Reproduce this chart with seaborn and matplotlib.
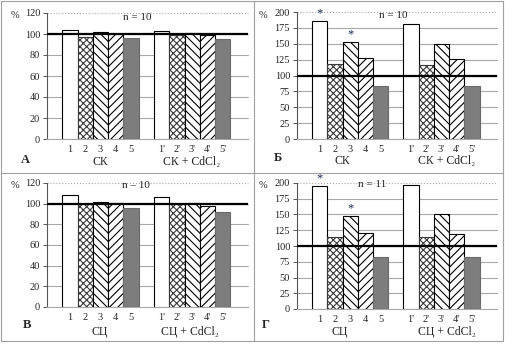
import matplotlib
matplotlib.use("Agg")
import matplotlib.pyplot as plt
import numpy as np
import pandas as pd
import seaborn as sns
from matplotlib.lines import Line2D

sns.set_theme(style="white")
plt.rcParams['font.family'] = ['Liberation Serif', 'DejaVu Serif']
plt.rcParams['hatch.linewidth'] = 0.8

# ---- data -------------------------------------------------------------
labels_base = ["1", "2", "3", "4", "5"]
labels_cd = ["1'", "2'", "3'", "4'", "5'"]

# panel А (СК), %
a_base = [104, 97.5, 102, 100, 96.5]
a_cd = [103, 99, 101, 99.5, 95.5]
# panel Б (СК), %
b_base = [186, 118, 153, 128, 83]
b_cd = [181, 117, 150, 126, 83]
# panel В (СЦ), %
v_base = [108.5, 100, 101.5, 100.5, 96]
v_cd = [106.5, 99.5, 101, 98, 92]
# panel Г (СЦ), %
g_base = [195, 114, 148, 120, 83]
g_cd = [197, 114, 150, 119, 83]

starred = ["1", "3"]  # significant differences

W, H = 527, 344
fig = plt.figure(figsize=(W / 100, H / 100), dpi=100)
fig.patch.set_facecolor("white")


def fx(x):
    return x / W


def fy(y):
    return 1 - y / H


SPACER = "·"
order = labels_base + [SPACER] + labels_cd

# fill / hatch for bars 1..5 (same for primed bars)
styles = [
    dict(fc="white", ec="black", hatch=None),
    dict(fc="white", ec="#3a3a3a", hatch="xxxxx"),
    dict(fc="white", ec="black", hatch="\\\\\\\\"),
    dict(fc="white", ec="black", hatch="////"),
    dict(fc="#7d7d7d", ec="#6a6a6a", hatch=None),
]


def panel(rect, base, cd, ymax, ystep, letter, group, n_text, n_xy, letter_xy,
          pct_xy, g1_xy, g2_xy):
    ax = fig.add_axes(rect)
    df = pd.DataFrame({"label": labels_base + labels_cd, "value": base + cd})
    sns.barplot(data=df, x="label", y="value", order=order, width=1.0,
                color="white", ax=ax, errorbar=None, saturation=1)
    for p in ax.patches:
        h = p.get_height()
        if h is None or np.isnan(h):
            continue
        slot = int(round(p.get_x() + p.get_width() / 2))
        st = styles[slot] if slot < 5 else styles[slot - 6]
        p.set_facecolor(st["fc"])
        p.set_edgecolor(st["ec"])
        p.set_linewidth(0.8)
        if st["hatch"]:
            p.set_hatch(st["hatch"])
        p.set_zorder(3)
    ax.set_xlim(-1.5, 11.65)
    ax.set_ylim(0, ymax)
    ticks = np.arange(0, ymax + 0.1, ystep)
    ax.set_yticks(ticks)
    ax.set_yticklabels([f"{int(t)}" for t in ticks], fontsize=7.5)
    for t in ticks[1:]:
        ls = ":" if t == ymax else "-"
        ax.axhline(t, color="#a8a8a8", lw=0.8, ls=ls, zorder=1, clip_on=False)
    ax.axhline(100, color="black", lw=1.6, zorder=5)
    pos = [i for i, lab in enumerate(order) if lab != SPACER]
    ax.set_xticks(pos)
    ax.set_xticklabels([order[i] for i in pos], fontsize=7.5)
    ax.tick_params(axis="x", length=0, pad=4)
    ax.tick_params(axis="y", length=3, width=0.7, color="#555555", pad=2,
                   left=True, direction="out")
    ax.set_xlabel("")
    ax.set_ylabel("")
    for s in ["top", "right"]:
        ax.spines[s].set_visible(False)
    ax.spines["left"].set_color("#555555")
    ax.spines["left"].set_linewidth(0.8)
    ax.spines["bottom"].set_color("#a8a8a8")
    ax.spines["bottom"].set_linewidth(0.8)
    ax.set_facecolor("white")
    # asterisks over bars 1 and 3
    vals = dict(zip(labels_base + labels_cd, base + cd))
    if ymax > 150:
        for lab in starred:
            i = order.index(lab)
            ax.annotate("*", (i, vals[lab]), xytext=(0, 1),
                        textcoords="offset points", ha="center", va="bottom",
                        fontsize=9, color="#1c2b4a", zorder=6)
    fig.text(fx(n_xy[0]), fy(n_xy[1]), n_text, ha="center", va="center",
             fontsize=8)
    fig.text(fx(letter_xy[0]), fy(letter_xy[1]), letter, ha="center",
             va="center", fontsize=9, fontweight="bold")
    fig.text(fx(pct_xy[0]), fy(pct_xy[1]), "%", ha="center", va="center",
             fontsize=7.5)
    fig.text(fx(g1_xy[0]), fy(g1_xy[1]), group, ha="center", va="center",
             fontsize=8.5)
    fig.text(fx(g2_xy[0]), fy(g2_xy[1]), group + " + CdCl₂", ha="center",
             va="center", fontsize=8.5)
    return ax


# left column axes span x = 47..248 px, right column x = 297..497 px
panel([fx(47), fy(139), fx(248) - fx(47), fy(13) - fy(139)],
      a_base, a_cd, 120, 20, "А", "СК", "n = 10", (137, 17), (25, 160),
      (15, 16), (100, 162), (192, 162))
panel([fx(297), fy(139), fx(497) - fx(297), fy(12) - fy(139)],
      b_base, b_cd, 200, 25, "Б", "СК", "n = 10", (393, 16), (278, 158),
      (263, 16), (342, 161), (447, 161))
panel([fx(47), fy(307), fx(248) - fx(47), fy(183) - fy(307)],
      v_base, v_cd, 120, 20, "В", "СЦ", "n – 10", (136, 186), (27, 325),
      (15, 186), (100, 332), (190, 332))
panel([fx(297), fy(309), fx(497) - fx(297), fy(183) - fy(309)],
      g_base, g_cd, 200, 25, "Г", "СЦ", "n = 11", (372, 185), (266, 325),
      (263, 186), (340, 332), (447, 332))

# table frame around the four panels
frame = dict(color="#a0a0a0", lw=0.8, transform=fig.transFigure)
for x0, y0, x1, y1 in [(0.5, 1, 503, 1), (0.5, 341, 503, 341),
                       (0.5, 173, 503, 173), (0.5, 1, 0.5, 341),
                       (254, 1, 254, 341), (503, 1, 503, 341)]:
    fig.add_artist(Line2D([fx(x0), fx(x1)], [fy(y0), fy(y1)], **frame))

fig.savefig("out.png", dpi=100, facecolor="white")
